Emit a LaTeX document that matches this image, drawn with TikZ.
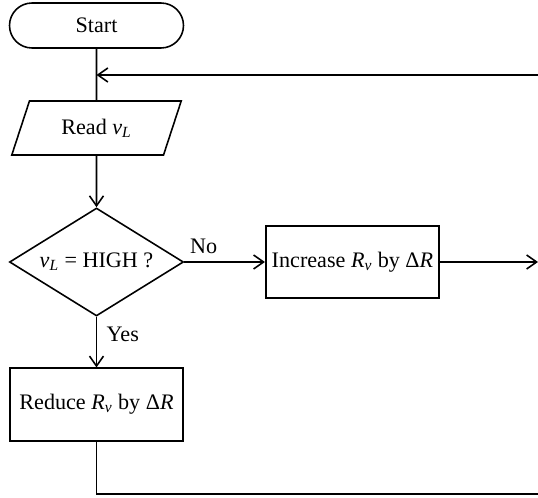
\documentclass[tikz,border=0pt]{standalone}
\usepackage{fontspec}
\setmainfont{Liberation Serif}
\usetikzlibrary{shapes.geometric,shapes.misc,arrows.meta}
\tikzset{
  every node/.style={font=\fontsize{12.6}{15}\selectfont},
  flow/.style={draw,line width=.9pt,inner sep=0pt},
  terminal/.style={flow,rounded rectangle,minimum width=3.48cm,minimum height=.9cm},
  io/.style={flow,trapezium,trapezium left angle=63.4,trapezium right angle=116.6,trapezium stretches=true,minimum width=3.4cm,minimum height=1.08cm},
  decision/.style={flow,diamond,aspect=1.6,minimum width=3.48cm,minimum height=2.16cm},
  process/.style={flow,rectangle,minimum width=3.47cm,minimum height=1.45cm},
  line/.style={line width=.9pt},
  arrow/.style={line,-{Straight Barb[length=2mm,width=2.8mm]}}
}
\begin{document}
\begin{tikzpicture}
\useasboundingbox(0,0)rectangle(10.76,-9.96);
\node[terminal](start)at(1.93,-.51){Start};
\node[io](read)at(1.93,-2.56){Read \textit{v}\textsubscript{\textit{L}}};
\node[decision](test)at(1.93,-5.24){\textit{v}\textsubscript{\textit{L}} = HIGH ?};
\node[process](inc)at(7.05,-5.24){Increase \textit{R}\textsubscript{\textit{v}} by Δ\textit{R}};
\node[process](red)at(1.93,-8.09){Reduce \textit{R}\textsubscript{\textit{v}} by Δ\textit{R}};
\coordinate(join)at(1.93,-1.5);
\coordinate(back)at(10.76,-1.5);
\coordinate(out)at(10.76,-5.24);
\coordinate(low)at(1.93,-9.88);
\coordinate(lowend)at(10.76,-9.88);
% main line
\draw[line](start.south)--(read.north);
\draw[arrow](back)--(join);
\draw[arrow](read.south)--(test.north);
\draw[arrow](test.east)--node[pos=.24,above=1pt]{No}(inc.west);
\draw[arrow](test.south)--node[pos=.34,right=2pt]{Yes}(red.north);
\draw[arrow](inc.east)--(out);
\draw[line](red.south)--(low)--(lowend);
\end{tikzpicture}
\end{document}
